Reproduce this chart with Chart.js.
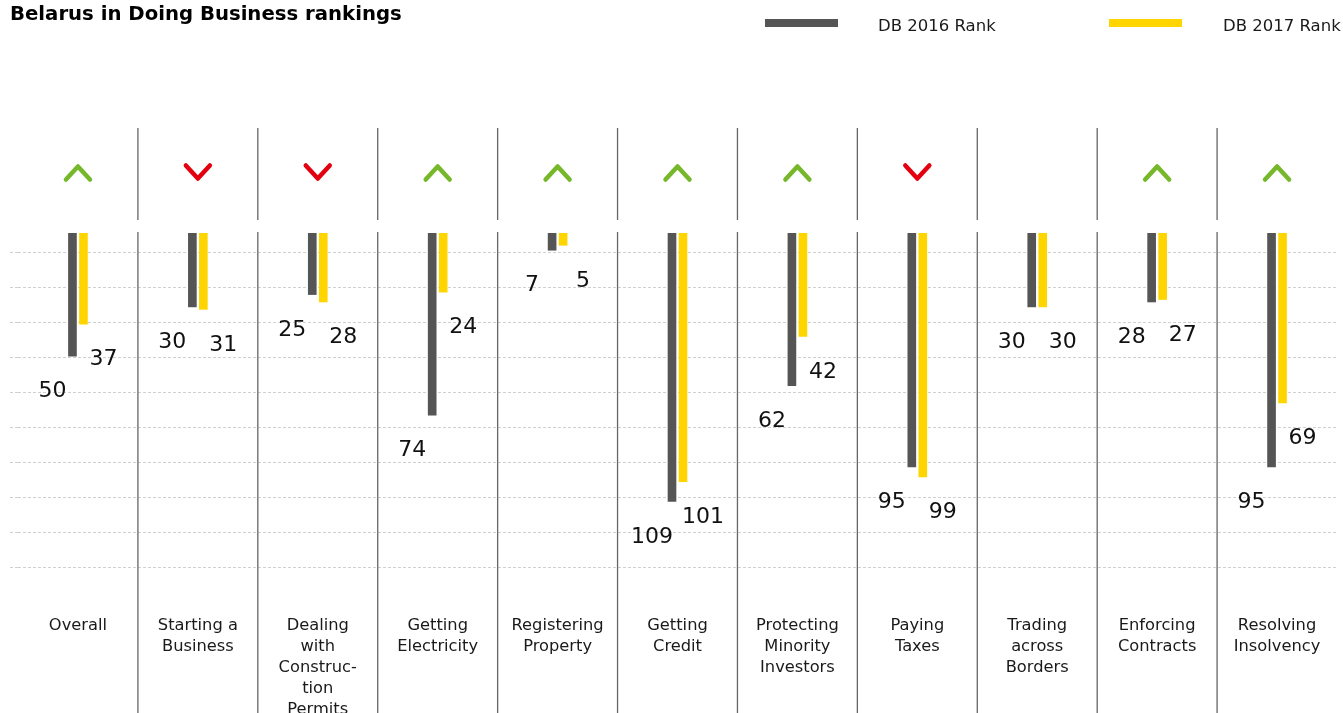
<!DOCTYPE html>
<html>
<head>
<meta charset="utf-8">
<script src="https://cdn.jsdelivr.net/npm/chart.js@4"></script>
<style>
  html, body { margin: 0; padding: 0; background: #ffffff; }
  #wrap { width: 1343px; height: 713px; position: relative; overflow: hidden; }
  canvas { display: block; }
</style>
</head>
<body>
<div id="wrap"><canvas id="c" width="1343" height="713"></canvas></div>
<script>
// ---- data ----
const titleText = 'Belarus in Doing Business rankings';
const seriesNames = ['DB 2016 Rank', 'DB 2017 Rank'];
const categories = [
  'Overall',
  ['Starting a', 'Business'],
  ['Dealing', 'with', 'Construc-', 'tion', 'Permits'],
  ['Getting', 'Electricity'],
  ['Registering', 'Property'],
  ['Getting', 'Credit'],
  ['Protecting', 'Minority', 'Investors'],
  ['Paying', 'Taxes'],
  ['Trading', 'across', 'Borders'],
  ['Enforcing', 'Contracts'],
  ['Resolving', 'Insolvency']
];
const rank2016 = [50, 30, 25, 74, 7, 109, 62, 95, 30, 28, 95];
const rank2017 = [37, 31, 28, 24, 5, 101, 42, 99, 30, 27, 69];
const gridTicks = [0, 1, 2, 3, 4, 5, 6, 7, 8, 9];

// ---- styles ----
const DARK = '#555555';
const YELLOW = '#ffd500';
const GREEN = '#76b82a';
const RED = '#e3000f';
const FONT = '"DejaVu Sans", sans-serif';

const decorPlugin = {
  id: 'decor',
  afterDraw(chart) {
    const ctx = chart.ctx;
    const xs = chart.scales.x;
    const n = categories.length;
    ctx.save();
    // separators between categories
    ctx.strokeStyle = '#666666';
    ctx.lineWidth = 1.3;
    for (let i = 1; i < n; i++) {
      const bx = (xs.getPixelForValue(i - 1) + xs.getPixelForValue(i)) / 2;
      ctx.beginPath();
      ctx.moveTo(bx, 128); ctx.lineTo(bx, 220);
      ctx.moveTo(bx, 232); ctx.lineTo(bx, 713);
      ctx.stroke();
    }
    // chevrons (direction from data)
    ctx.lineWidth = 4.5;
    ctx.lineCap = 'round';
    ctx.lineJoin = 'round';
    for (let i = 0; i < n; i++) {
      const cx = xs.getPixelForValue(i);
      const d = rank2017[i] - rank2016[i];
      if (d === 0) continue;
      ctx.beginPath();
      if (d < 0) {
        ctx.strokeStyle = GREEN;
        ctx.moveTo(cx - 12, 179.5); ctx.lineTo(cx, 166.5); ctx.lineTo(cx + 12, 179.5);
      } else {
        ctx.strokeStyle = RED;
        ctx.moveTo(cx - 12, 165.5); ctx.lineTo(cx, 178.5); ctx.lineTo(cx + 12, 165.5);
      }
      ctx.stroke();
    }
    // value labels
    ctx.fillStyle = '#111111';
    ctx.font = '22px ' + FONT;
    ctx.textAlign = 'center';
    ctx.textBaseline = 'middle';
    chart.data.datasets.forEach((ds, di) => {
      const meta = chart.getDatasetMeta(di);
      meta.data.forEach((el, i) => {
        const lx = el.x + (di === 0 ? -20 : 20);
        const ly = el.y + 35.5;
        ctx.fillText(String(ds.data[i]), lx, ly);
      });
    });
    // title
    ctx.fillStyle = '#000000';
    ctx.textAlign = 'left';
    ctx.textBaseline = 'alphabetic';
    ctx.font = 'bold 19.7px ' + FONT;
    ctx.fillText(titleText, 10, 19.5);
    // legend
    ctx.font = '16.5px ' + FONT;
    ctx.fillStyle = DARK;
    ctx.fillRect(765, 19, 73, 8);
    ctx.fillStyle = YELLOW;
    ctx.fillRect(1109, 19, 73, 8);
    ctx.fillStyle = '#1a1a1a';
    ctx.fillText(seriesNames[0], 878, 31);
    ctx.fillText(seriesNames[1], 1223, 31);
    ctx.restore();
  }
};

new Chart(document.getElementById('c'), {
  type: 'bar',
  data: {
    labels: categories,
    datasets: [
      { label: seriesNames[0], data: rank2016, backgroundColor: DARK, borderWidth: 0,
        barThickness: 11, maxBarThickness: 8, yAxisID: 'y' },
      { label: seriesNames[1], data: rank2017, backgroundColor: YELLOW, borderWidth: 0,
        barThickness: 11, maxBarThickness: 8, yAxisID: 'y' }
    ]
  },
  options: {
    responsive: false,
    devicePixelRatio: 1,
    animation: false,
    layout: { padding: { left: 10, right: 6, top: 233, bottom: 0 } },
    plugins: {
      legend: { display: false },
      title: { display: false },
      tooltip: { enabled: false }
    },
    scales: {
      x: {
        type: 'category',
        offset: true,
        grid: { display: false },
        border: { display: false },
        afterFit(scale) { scale.height = 113; },
        ticks: {
          autoSkip: false,
          maxRotation: 0,
          minRotation: 0,
          padding: 7.5,
          color: '#1a1a1a',
          font: { family: FONT, size: 16.3, lineHeight: 1.29 }
        }
      },
      y: {
        display: false,
        reverse: true,
        min: 0,
        max: 149
      },
      y2: {
        type: 'linear',
        position: 'left',
        reverse: true,
        min: -0.55,
        max: 9.934,
        afterBuildTicks(scale) { scale.ticks = gridTicks.map(v => ({ value: v })); },
        afterFit(scale) { scale.width = 8; },
        ticks: { display: false },
        border: { display: false, dash: [3, 2] },
        grid: {
          color: '#d0d0d0',
          lineWidth: 1,
          drawTicks: true,
          tickLength: 8,
          tickBorderDash: [3, 2],
          tickColor: '#d0d0d0'
        }
      }
    }
  },
  plugins: [decorPlugin]
});
</script>
</body>
</html>
